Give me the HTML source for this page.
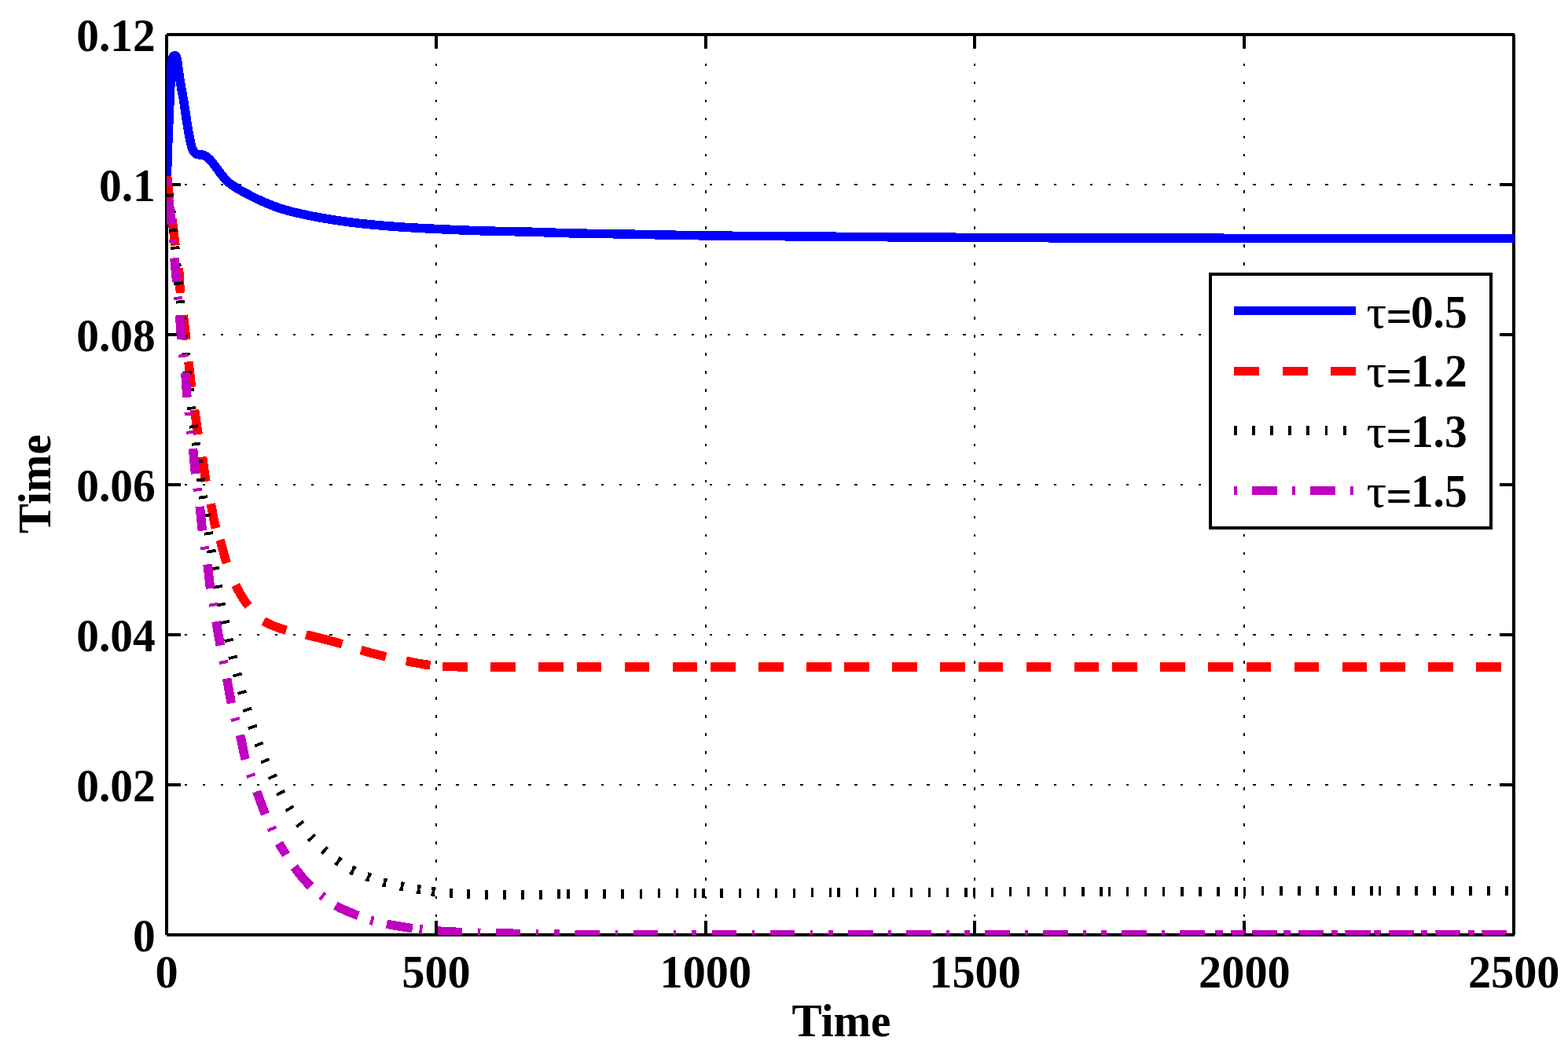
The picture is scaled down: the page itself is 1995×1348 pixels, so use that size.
<!DOCTYPE html>
<html lang="en"><head><meta charset="utf-8"><title>Time response for different delays</title>
<style>html,body{margin:0;padding:0;background:#fff}body{width:1995px;height:1348px;overflow:hidden}svg{display:block}text{font-family:"Liberation Serif","DejaVu Serif",serif;font-weight:bold;font-size:58.3px;fill:#000}.t{font-weight:normal;font-size:60px}</style></head><body>
<svg width="1995" height="1348" viewBox="0 0 1995 1348">
<rect width="1995" height="1348" fill="#fff"/>
<defs><clipPath id="ax"><rect x="212" y="43" width="1715.3" height="1147.6"/></clipPath></defs>
<g stroke="#000" fill="none" stroke-width="2" shape-rendering="crispEdges">
<path d="M235 999h3M258 999h3M281 999h3M304 999h3M327 999h3M350 999h3M373 999h3M396 999h3M419 999h4M442 999h4M465 999h4M488 999h4M511 999h4M534 999h4M557 999h4M580 999h4M603 999h4M626 999h4M649 999h4M672 999h4M695 999h4M718 999h4M741 999h4M765 999h3M788 999h3M811 999h3M834 999h3M857 999h3M880 999h3M903 999h3M926 999h3M949 999h3M972 999h3M995 999h4M1018 999h4M1041 999h4M1064 999h4M1087 999h4M1110 999h4M1133 999h4M1156 999h4M1179 999h4M1202 999h4M1225 999h4M1248 999h4M1271 999h4M1294 999h4M1317 999h4M1341 999h3M1364 999h3M1387 999h3M1410 999h3M1433 999h3M1456 999h3M1479 999h3M1502 999h3M1525 999h3M1548 999h3M1571 999h4M1594 999h4M1617 999h4M1640 999h4M1663 999h4M1686 999h4M1709 999h4M1732 999h4M1755 999h4M1778 999h4M1801 999h4M1824 999h4M1847 999h4M1870 999h4M1893 999h4M1917 999h3M235 808h3M258 808h3M281 808h3M304 808h3M327 808h3M350 808h3M373 808h3M396 808h3M419 808h4M442 808h4M465 808h4M488 808h4M511 808h4M534 808h4M557 808h4M580 808h4M603 808h4M626 808h4M649 808h4M672 808h4M695 808h4M718 808h4M741 808h4M765 808h3M788 808h3M811 808h3M834 808h3M857 808h3M880 808h3M903 808h3M926 808h3M949 808h3M972 808h3M995 808h4M1018 808h4M1041 808h4M1064 808h4M1087 808h4M1110 808h4M1133 808h4M1156 808h4M1179 808h4M1202 808h4M1225 808h4M1248 808h4M1271 808h4M1294 808h4M1317 808h4M1341 808h3M1364 808h3M1387 808h3M1410 808h3M1433 808h3M1456 808h3M1479 808h3M1502 808h3M1525 808h3M1548 808h3M1571 808h4M1594 808h4M1617 808h4M1640 808h4M1663 808h4M1686 808h4M1709 808h4M1732 808h4M1755 808h4M1778 808h4M1801 808h4M1824 808h4M1847 808h4M1870 808h4M1893 808h4M1917 808h3M235 617h3M258 617h3M281 617h3M304 617h3M327 617h3M350 617h3M373 617h3M396 617h3M419 617h4M442 617h4M465 617h4M488 617h4M511 617h4M534 617h4M557 617h4M580 617h4M603 617h4M626 617h4M649 617h4M672 617h4M695 617h4M718 617h4M741 617h4M765 617h3M788 617h3M811 617h3M834 617h3M857 617h3M880 617h3M903 617h3M926 617h3M949 617h3M972 617h3M995 617h4M1018 617h4M1041 617h4M1064 617h4M1087 617h4M1110 617h4M1133 617h4M1156 617h4M1179 617h4M1202 617h4M1225 617h4M1248 617h4M1271 617h4M1294 617h4M1317 617h4M1341 617h3M1364 617h3M1387 617h3M1410 617h3M1433 617h3M1456 617h3M1479 617h3M1502 617h3M1525 617h3M1548 617h3M1571 617h4M1594 617h4M1617 617h4M1640 617h4M1663 617h4M1686 617h4M1709 617h4M1732 617h4M1755 617h4M1778 617h4M1801 617h4M1824 617h4M1847 617h4M1870 617h4M1893 617h4M1917 617h3M235 426h3M258 426h3M281 426h3M304 426h3M327 426h3M350 426h3M373 426h3M396 426h3M419 426h4M442 426h4M465 426h4M488 426h4M511 426h4M534 426h4M557 426h4M580 426h4M603 426h4M626 426h4M649 426h4M672 426h4M695 426h4M718 426h4M741 426h4M765 426h3M788 426h3M811 426h3M834 426h3M857 426h3M880 426h3M903 426h3M926 426h3M949 426h3M972 426h3M995 426h4M1018 426h4M1041 426h4M1064 426h4M1087 426h4M1110 426h4M1133 426h4M1156 426h4M1179 426h4M1202 426h4M1225 426h4M1248 426h4M1271 426h4M1294 426h4M1317 426h4M1341 426h3M1364 426h3M1387 426h3M1410 426h3M1433 426h3M1456 426h3M1479 426h3M1502 426h3M1525 426h3M1548 426h3M1571 426h4M1594 426h4M1617 426h4M1640 426h4M1663 426h4M1686 426h4M1709 426h4M1732 426h4M1755 426h4M1778 426h4M1801 426h4M1824 426h4M1847 426h4M1870 426h4M1893 426h4M1917 426h3M235 235h3M258 235h3M281 235h3M304 235h3M327 235h3M350 235h3M373 235h3M396 235h3M419 235h4M442 235h4M465 235h4M488 235h4M511 235h4M534 235h4M557 235h4M580 235h4M603 235h4M626 235h4M649 235h4M672 235h4M695 235h4M718 235h4M741 235h4M765 235h3M788 235h3M811 235h3M834 235h3M857 235h3M880 235h3M903 235h3M926 235h3M949 235h3M972 235h3M995 235h4M1018 235h4M1041 235h4M1064 235h4M1087 235h4M1110 235h4M1133 235h4M1156 235h4M1179 235h4M1202 235h4M1225 235h4M1248 235h4M1271 235h4M1294 235h4M1317 235h4M1341 235h3M1364 235h3M1387 235h3M1410 235h3M1433 235h3M1456 235h3M1479 235h3M1502 235h3M1525 235h3M1548 235h3M1571 235h4M1594 235h4M1617 235h4M1640 235h4M1663 235h4M1686 235h4M1709 235h4M1732 235h4M1755 235h4M1778 235h4M1801 235h4M1824 235h4M1847 235h4M1870 235h4M1893 235h4M1917 235h3"/>
<path d="M555 58v3M555 81v3M555 104v3M555 127v3M555 150v3M555 173v3M555 196v3M555 219v4M555 242v4M555 265v4M555 288v4M555 311v4M555 334v4M555 357v4M555 380v4M555 403v4M555 426v4M555 449v4M555 472v4M555 495v4M555 518v4M555 541v4M555 565v3M555 588v3M555 611v3M555 634v3M555 657v3M555 680v3M555 703v3M555 726v3M555 749v3M555 772v3M555 795v4M555 818v4M555 841v4M555 864v4M555 887v4M555 910v4M555 933v4M555 956v4M555 979v4M555 1002v4M555 1025v4M555 1048v4M555 1071v4M555 1094v4M555 1117v4M555 1141v3M555 1164v3M898 58v3M898 81v3M898 104v3M898 127v3M898 150v3M898 173v3M898 196v3M898 219v4M898 242v4M898 265v4M898 288v4M898 311v4M898 334v4M898 357v4M898 380v4M898 403v4M898 426v4M898 449v4M898 472v4M898 495v4M898 518v4M898 541v4M898 565v3M898 588v3M898 611v3M898 634v3M898 657v3M898 680v3M898 703v3M898 726v3M898 749v3M898 772v3M898 795v4M898 818v4M898 841v4M898 864v4M898 887v4M898 910v4M898 933v4M898 956v4M898 979v4M898 1002v4M898 1025v4M898 1048v4M898 1071v4M898 1094v4M898 1117v4M898 1141v3M898 1164v3M1240 58v3M1240 81v3M1240 104v3M1240 127v3M1240 150v3M1240 173v3M1240 196v3M1240 219v4M1240 242v4M1240 265v4M1240 288v4M1240 311v4M1240 334v4M1240 357v4M1240 380v4M1240 403v4M1240 426v4M1240 449v4M1240 472v4M1240 495v4M1240 518v4M1240 541v4M1240 565v3M1240 588v3M1240 611v3M1240 634v3M1240 657v3M1240 680v3M1240 703v3M1240 726v3M1240 749v3M1240 772v3M1240 795v4M1240 818v4M1240 841v4M1240 864v4M1240 887v4M1240 910v4M1240 933v4M1240 956v4M1240 979v4M1240 1002v4M1240 1025v4M1240 1048v4M1240 1071v4M1240 1094v4M1240 1117v4M1240 1141v3M1240 1164v3M1583 58v3M1583 81v3M1583 104v3M1583 127v3M1583 150v3M1583 173v3M1583 196v3M1583 219v4M1583 242v4M1583 265v4M1583 288v4M1583 311v4M1583 334v4M1583 357v4M1583 380v4M1583 403v4M1583 426v4M1583 449v4M1583 472v4M1583 495v4M1583 518v4M1583 541v4M1583 565v3M1583 588v3M1583 611v3M1583 634v3M1583 657v3M1583 680v3M1583 703v3M1583 726v3M1583 749v3M1583 772v3M1583 795v4M1583 818v4M1583 841v4M1583 864v4M1583 887v4M1583 910v4M1583 933v4M1583 956v4M1583 979v4M1583 1002v4M1583 1025v4M1583 1048v4M1583 1071v4M1583 1094v4M1583 1117v4M1583 1141v3M1583 1164v3"/>
</g>
<g stroke="#000" fill="none" stroke-width="4" shape-rendering="crispEdges">
<path d="M212 44V1190M212 1190H1927M1926 44V1190M212 44H1927"/>
<path d="M212 999h18M1926 999h-18M212 808h18M1926 808h-18M212 617h18M1926 617h-18M212 426h18M1926 426h-18M212 235h18M1926 235h-18"/>
<path d="M555 1190v-18M555 44v18M898 1190v-18M898 44v18M1240 1190v-18M1240 44v18M1583 1190v-18M1583 44v18"/>
</g>
<g clip-path="url(#ax)" fill="none" stroke-width="11.5" stroke-linejoin="round" shape-rendering="crispEdges">
<path stroke="#0000ff" d="M212.2 235L212.24 233L212.28 231L212.32 229.01L212.37 227.01L212.41 225.01L212.46 223.01L212.51 221.02L212.56 219.02L212.61 217.02L212.67 215.03L212.72 213.03L212.78 211.03L212.83 209.03L212.89 207.04L212.95 205.04L213.01 203.04L213.07 201.04L213.13 199.05L213.19 197.05L213.26 195.05L213.33 193.06L213.4 191.06L213.47 189.06L213.55 187.07L213.62 185.07L213.7 183.07L213.78 181.08L213.86 179.08L213.93 177.08L214.02 175.09L214.1 173.09L214.18 171.1L214.27 169.1L214.35 167.1L214.44 165.11L214.52 163.11L214.61 161.11L214.69 159.12L214.78 157.12L214.86 155.13L214.94 153.13L215.03 151.13L215.11 149.14L215.19 147.14L215.28 145.14L215.36 143.15L215.44 141.15L215.53 139.16L215.61 137.16L215.7 135.16L215.78 133.17L215.87 131.17L215.95 129.17L216.03 127.18L216.12 125.18L216.2 123.19L216.29 121.19L216.38 119.19L216.46 117.2L216.55 115.2L216.64 113.21L216.74 111.21L216.83 109.21L216.91 107.22L217 105.22L217.08 103.22L217.17 101.23L217.27 99.23L217.37 97.24L217.47 95.24L217.59 93.25L217.71 91.25L217.85 89.26L218 87.27L218.16 85.28L218.33 83.29L218.54 81.3L218.79 79.32L219.08 77.34L219.42 75.37L219.83 73.42L220.46 71.52L222.11 70.8L223.92 71.24L224.58 73.12L225.06 75.07L225.45 77.02L225.78 78.99L226.06 80.97L226.31 82.95L226.54 84.94L226.78 86.92L227.04 88.9L227.33 90.88L227.63 92.86L227.93 94.83L228.23 96.81L228.54 98.78L228.84 100.76L229.15 102.73L229.46 104.7L229.78 106.68L230.11 108.65L230.45 110.62L230.8 112.58L231.16 114.55L231.52 116.51L231.89 118.48L232.26 120.44L232.62 122.4L232.98 124.37L233.34 126.34L233.68 128.3L234.01 130.28L234.33 132.25L234.64 134.22L234.94 136.2L235.23 138.17L235.51 140.15L235.8 142.13L236.08 144.11L236.36 146.09L236.64 148.06L236.92 150.04L237.21 152.02L237.5 154L237.8 155.97L238.11 157.94L238.44 159.92L238.77 161.89L239.1 163.86L239.45 165.82L239.8 167.79L240.16 169.76L240.53 171.72L240.92 173.68L241.31 175.64L241.72 177.59L242.12 179.55L242.53 181.51L242.96 183.46L243.44 185.4L244 187.32L244.66 189.2L245.46 191.03L246.42 192.78L247.64 194.36L249.2 195.6L250.97 196.52L252.92 196.91L254.92 196.95L256.91 197L258.86 197.4L260.72 198.14L262.41 199.19L264 200.4L265.53 201.68L266.98 203.06L268.35 204.51L269.65 206.03L270.89 207.6L272.09 209.2L273.27 210.81L274.46 212.42L275.66 214.01L276.85 215.61L278.03 217.23L279.2 218.85L280.39 220.45L281.6 222.04L282.86 223.59L284.14 225.13L285.43 226.65L286.76 228.15L288.12 229.61L289.55 231L291.04 232.33L292.6 233.59L294.19 234.79L295.83 235.94L297.48 237.06L299.15 238.15L300.84 239.23L302.54 240.28L304.25 241.3L305.99 242.29L307.73 243.27L309.49 244.23L311.24 245.17L313.01 246.11L314.78 247.04L316.55 247.97L318.32 248.89L320.1 249.8L321.88 250.7L323.67 251.59L325.46 252.47L327.26 253.34L329.07 254.19L330.88 255.03L332.7 255.86L334.53 256.67L336.36 257.46L338.2 258.24L340.04 259.02L341.89 259.79L343.74 260.55L345.59 261.29L347.45 262.02L349.32 262.73L351.19 263.43L353.07 264.1L354.96 264.75L356.86 265.37L358.77 265.97L360.68 266.55L362.6 267.1L364.52 267.65L366.45 268.17L368.38 268.69L370.31 269.18L372.25 269.67L374.19 270.14L376.14 270.6L378.08 271.05L380.03 271.5L381.98 271.93L383.93 272.36L385.89 272.78L387.84 273.2L389.8 273.61L391.75 274.02L393.71 274.42L395.67 274.82L397.63 275.21L399.59 275.6L401.55 275.98L403.51 276.35L405.48 276.72L407.44 277.08L409.41 277.43L411.37 277.78L413.34 278.12L415.31 278.46L417.28 278.79L419.25 279.11L421.23 279.43L423.2 279.74L425.18 280.04L427.15 280.33L429.13 280.62L431.11 280.91L433.08 281.19L435.06 281.47L437.04 281.74L439.02 282.01L441 282.28L442.98 282.54L444.97 282.79L446.95 283.05L448.93 283.29L450.91 283.54L452.9 283.77L454.88 284.01L456.87 284.24L458.85 284.46L460.84 284.68L462.82 284.9L464.81 285.11L466.8 285.31L468.79 285.51L470.77 285.71L472.76 285.9L474.75 286.09L476.74 286.27L478.73 286.45L480.72 286.63L482.71 286.81L484.7 286.98L486.69 287.15L488.68 287.32L490.68 287.48L492.67 287.64L494.66 287.8L496.65 287.95L498.64 288.11L500.64 288.25L502.63 288.4L504.62 288.54L506.61 288.69L508.61 288.82L510.6 288.96L512.59 289.09L514.59 289.22L516.58 289.35L518.58 289.47L520.57 289.6L522.57 289.72L524.56 289.84L526.55 289.95L528.55 290.06L530.54 290.18L532.54 290.29L534.53 290.39L536.53 290.5L538.52 290.6L540.52 290.71L542.52 290.81L544.51 290.91L546.51 291.01L548.5 291.11L550.5 291.2L552.49 291.3L554.49 291.4L556.49 291.49L558.48 291.59L560.48 291.68L562.47 291.77L564.47 291.87L566.46 291.96L568.46 292.05L570.46 292.15L572.45 292.24L574.45 292.33L576.44 292.42L578.44 292.51L580.44 292.6L582.43 292.69L584.43 292.78L586.42 292.86L588.42 292.95L590.42 293.03L592.41 293.11L594.41 293.19L596.41 293.26L598.4 293.34L600.4 293.41L602.4 293.48L604.39 293.55L606.39 293.61L608.39 293.68L610.38 293.74L612.38 293.8L614.38 293.86L616.38 293.91L618.37 293.97L620.37 294.03L622.37 294.08L624.36 294.13L626.36 294.18L628.36 294.23L630.36 294.28L632.35 294.33L634.35 294.38L636.35 294.42L638.35 294.46L640.34 294.51L642.34 294.55L644.34 294.58L646.34 294.62L648.34 294.65L650.33 294.69L652.33 294.72L654.33 294.75L656.33 294.78L658.32 294.81L660.32 294.85L662.32 294.88L664.32 294.92L666.31 294.96L668.31 295.01L670.31 295.06L672.31 295.11L674.3 295.17L676.3 295.23L678.3 295.29L680.3 295.36L682.29 295.43L684.29 295.5L686.29 295.57L688.28 295.64L690.28 295.71L692.28 295.78L694.27 295.85L696.27 295.91L698.27 295.98L700.26 296.04L702.26 296.1L704.26 296.16L706.26 296.22L708.25 296.29L710.25 296.35L712.25 296.41L714.24 296.47L716.24 296.53L718.24 296.59L720.23 296.65L722.23 296.71L724.23 296.76L726.23 296.81L728.22 296.87L730.22 296.91L732.22 296.96L734.22 297L736.21 297.05L738.21 297.09L740.21 297.13L742.21 297.16L744.2 297.2L746.2 297.24L748.2 297.27L750.2 297.31L752.2 297.34L754.19 297.37L756.19 297.4L758.19 297.43L760.19 297.47L762.18 297.5L764.18 297.53L766.18 297.56L768.18 297.58L770.18 297.61L772.17 297.64L774.17 297.67L776.17 297.7L778.17 297.73L780.16 297.76L782.16 297.79L784.16 297.83L786.16 297.86L788.16 297.89L790.15 297.92L792.15 297.96L794.15 297.99L796.15 298.03L798.14 298.07L800.14 298.1L802.14 298.14L804.14 298.18L806.13 298.22L808.13 298.26L810.13 298.3L812.13 298.34L814.13 298.38L816.12 298.42L818.12 298.46L820.12 298.5L822.12 298.54L824.11 298.58L826.11 298.62L828.11 298.66L830.11 298.7L832.1 298.74L834.1 298.78L836.1 298.82L838.1 298.86L840.09 298.9L842.09 298.93L844.09 298.97L846.09 299.01L848.09 299.04L850.08 299.08L852.08 299.11L854.08 299.15L856.08 299.19L858.07 299.22L860.07 299.26L862.07 299.3L864.07 299.33L866.06 299.37L868.06 299.41L870.06 299.44L872.06 299.48L874.06 299.51L876.05 299.55L878.05 299.58L880.05 299.61L882.05 299.65L884.04 299.68L886.04 299.71L888.04 299.74L890.04 299.77L892.04 299.8L894.03 299.83L896.03 299.86L898.03 299.89L900.03 299.92L902.02 299.94L904.02 299.97L906.02 299.99L908.02 300.01L910.02 300.03L912.01 300.05L914.01 300.08L916.01 300.1L918.01 300.12L920.01 300.14L922 300.16L924 300.18L926 300.2L928 300.21L930 300.23L931.99 300.25L933.99 300.27L935.99 300.29L937.99 300.31L939.98 300.32L941.98 300.34L943.98 300.36L945.98 300.37L947.98 300.39L949.97 300.41L951.97 300.42L953.97 300.44L955.97 300.45L957.97 300.47L959.96 300.48L961.96 300.5L963.96 300.51L965.96 300.53L967.96 300.54L969.95 300.56L971.95 300.57L973.95 300.59L975.95 300.6L977.95 300.61L979.94 300.63L981.94 300.64L983.94 300.66L985.94 300.67L987.94 300.68L989.93 300.7L991.93 300.71L993.93 300.73L995.93 300.74L997.93 300.75L999.92 300.77L1001.92 300.78L1003.92 300.8L1005.92 300.81L1007.92 300.82L1009.91 300.84L1011.91 300.85L1013.91 300.87L1015.91 300.88L1017.91 300.9L1019.9 300.91L1021.9 300.92L1023.9 300.94L1025.9 300.95L1027.9 300.97L1029.89 300.98L1031.89 301L1033.89 301.01L1035.89 301.03L1037.89 301.05L1039.88 301.06L1041.88 301.08L1043.88 301.09L1045.88 301.11L1047.88 301.12L1049.87 301.14L1051.87 301.16L1053.87 301.17L1055.87 301.19L1057.87 301.21L1059.86 301.22L1061.86 301.24L1063.86 301.25L1065.86 301.27L1067.85 301.29L1069.85 301.3L1071.85 301.32L1073.85 301.33L1075.85 301.35L1077.84 301.37L1079.84 301.38L1081.84 301.4L1083.84 301.42L1085.84 301.43L1087.83 301.45L1089.83 301.46L1091.83 301.48L1093.83 301.5L1095.83 301.51L1097.82 301.53L1099.82 301.54L1101.82 301.56L1103.82 301.57L1105.82 301.59L1107.81 301.61L1109.81 301.62L1111.81 301.64L1113.81 301.65L1115.81 301.67L1117.8 301.68L1119.8 301.7L1121.8 301.71L1123.8 301.73L1125.8 301.74L1127.79 301.75L1129.79 301.77L1131.79 301.78L1133.79 301.8L1135.79 301.81L1137.78 301.82L1139.78 301.84L1141.78 301.85L1143.78 301.86L1145.78 301.88L1147.77 301.89L1149.77 301.9L1151.77 301.91L1153.77 301.93L1155.77 301.94L1157.76 301.95L1159.76 301.96L1161.76 301.97L1163.76 301.98L1165.76 301.99L1167.75 302.01L1169.75 302.02L1171.75 302.03L1173.75 302.04L1175.75 302.05L1177.74 302.06L1179.74 302.07L1181.74 302.08L1183.74 302.09L1185.74 302.1L1187.73 302.11L1189.73 302.12L1191.73 302.13L1193.73 302.14L1195.73 302.15L1197.72 302.16L1199.72 302.17L1201.72 302.18L1203.72 302.19L1205.72 302.2L1207.71 302.21L1209.71 302.22L1211.71 302.23L1213.71 302.24L1215.71 302.25L1217.7 302.26L1219.7 302.27L1221.7 302.28L1223.7 302.29L1225.7 302.3L1227.69 302.31L1229.69 302.32L1231.69 302.33L1233.69 302.34L1235.69 302.35L1237.68 302.36L1239.68 302.37L1241.68 302.37L1243.68 302.38L1245.68 302.39L1247.67 302.4L1249.67 302.41L1251.67 302.42L1253.67 302.43L1255.67 302.44L1257.66 302.45L1259.66 302.46L1261.66 302.47L1263.66 302.47L1265.66 302.48L1267.65 302.49L1269.65 302.5L1271.65 302.51L1273.65 302.52L1275.65 302.53L1277.64 302.53L1279.64 302.54L1281.64 302.55L1283.64 302.56L1285.64 302.57L1287.63 302.58L1289.63 302.58L1291.63 302.59L1293.63 302.6L1295.63 302.61L1297.62 302.62L1299.62 302.63L1301.62 302.63L1303.62 302.64L1305.62 302.65L1307.61 302.66L1309.61 302.66L1311.61 302.67L1313.61 302.68L1315.61 302.69L1317.6 302.69L1319.6 302.7L1321.6 302.71L1323.6 302.72L1325.6 302.72L1327.59 302.73L1329.59 302.74L1331.59 302.75L1333.59 302.75L1335.59 302.76L1337.58 302.77L1339.58 302.77L1341.58 302.78L1343.58 302.79L1345.58 302.79L1347.57 302.8L1349.57 302.81L1351.57 302.81L1353.57 302.82L1355.57 302.83L1357.56 302.83L1359.56 302.84L1361.56 302.85L1363.56 302.85L1365.56 302.86L1367.55 302.86L1369.55 302.87L1371.55 302.88L1373.55 302.88L1375.55 302.89L1377.54 302.89L1379.54 302.9L1381.54 302.9L1383.54 302.91L1385.54 302.92L1387.53 302.92L1389.53 302.93L1391.53 302.93L1393.53 302.94L1395.53 302.94L1397.52 302.95L1399.52 302.95L1401.52 302.96L1403.52 302.96L1405.52 302.97L1407.51 302.97L1409.51 302.98L1411.51 302.98L1413.51 302.98L1415.51 302.99L1417.5 302.99L1419.5 303L1421.5 303L1423.5 303.01L1425.5 303.01L1427.49 303.01L1429.49 303.02L1431.49 303.02L1433.49 303.03L1435.49 303.03L1437.48 303.04L1439.48 303.04L1441.48 303.04L1443.48 303.05L1445.48 303.05L1447.47 303.06L1449.47 303.06L1451.47 303.06L1453.47 303.07L1455.47 303.07L1457.46 303.08L1459.46 303.08L1461.46 303.08L1463.46 303.09L1465.46 303.09L1467.45 303.09L1469.45 303.1L1471.45 303.1L1473.45 303.11L1475.45 303.11L1477.44 303.11L1479.44 303.12L1481.44 303.12L1483.44 303.12L1485.44 303.13L1487.44 303.13L1489.43 303.14L1491.43 303.14L1493.43 303.14L1495.43 303.15L1497.43 303.15L1499.42 303.15L1501.42 303.16L1503.42 303.16L1505.42 303.16L1507.42 303.17L1509.41 303.17L1511.41 303.17L1513.41 303.18L1515.41 303.18L1517.41 303.18L1519.4 303.19L1521.4 303.19L1523.4 303.19L1525.4 303.2L1527.4 303.2L1529.39 303.2L1531.39 303.21L1533.39 303.21L1535.39 303.21L1537.39 303.22L1539.38 303.22L1541.38 303.22L1543.38 303.23L1545.38 303.23L1547.38 303.23L1549.37 303.23L1551.37 303.24L1553.37 303.24L1555.37 303.24L1557.37 303.25L1559.36 303.25L1561.36 303.25L1563.36 303.26L1565.36 303.26L1567.36 303.26L1569.35 303.26L1571.35 303.27L1573.35 303.27L1575.35 303.27L1577.35 303.27L1579.34 303.28L1581.34 303.28L1583.34 303.28L1585.34 303.29L1587.34 303.29L1589.33 303.29L1591.33 303.29L1593.33 303.3L1595.33 303.3L1597.33 303.3L1599.32 303.3L1601.32 303.31L1603.32 303.31L1605.32 303.31L1607.32 303.31L1609.31 303.32L1611.31 303.32L1613.31 303.32L1615.31 303.32L1617.31 303.32L1619.3 303.33L1621.3 303.33L1623.3 303.33L1625.3 303.33L1627.3 303.34L1629.29 303.34L1631.29 303.34L1633.29 303.34L1635.29 303.34L1637.29 303.35L1639.28 303.35L1641.28 303.35L1643.28 303.35L1645.28 303.35L1647.28 303.36L1649.27 303.36L1651.27 303.36L1653.27 303.36L1655.27 303.36L1657.27 303.37L1659.26 303.37L1661.26 303.37L1663.26 303.37L1665.26 303.37L1667.26 303.38L1669.25 303.38L1671.25 303.38L1673.25 303.38L1675.25 303.38L1677.25 303.38L1679.25 303.38L1681.24 303.39L1683.24 303.39L1685.24 303.39L1687.24 303.39L1689.24 303.39L1691.23 303.39L1693.23 303.4L1695.23 303.4L1697.23 303.4L1699.23 303.4L1701.22 303.4L1703.22 303.4L1705.22 303.4L1707.22 303.4L1709.22 303.41L1711.21 303.41L1713.21 303.41L1715.21 303.41L1717.21 303.41L1719.21 303.41L1721.2 303.41L1723.2 303.42L1725.2 303.42L1727.2 303.42L1729.2 303.42L1731.19 303.42L1733.19 303.42L1735.19 303.42L1737.19 303.42L1739.19 303.43L1741.18 303.43L1743.18 303.43L1745.18 303.43L1747.18 303.43L1749.18 303.43L1751.17 303.43L1753.17 303.43L1755.17 303.44L1757.17 303.44L1759.17 303.44L1761.16 303.44L1763.16 303.44L1765.16 303.44L1767.16 303.44L1769.16 303.44L1771.15 303.45L1773.15 303.45L1775.15 303.45L1777.15 303.45L1779.15 303.45L1781.14 303.45L1783.14 303.45L1785.14 303.45L1787.14 303.45L1789.14 303.46L1791.13 303.46L1793.13 303.46L1795.13 303.46L1797.13 303.46L1799.13 303.46L1801.12 303.46L1803.12 303.46L1805.12 303.46L1807.12 303.47L1809.12 303.47L1811.11 303.47L1813.11 303.47L1815.11 303.47L1817.11 303.47L1819.11 303.47L1821.1 303.47L1823.1 303.47L1825.1 303.47L1827.1 303.48L1829.1 303.48L1831.09 303.48L1833.09 303.48L1835.09 303.48L1837.09 303.48L1839.09 303.48L1841.08 303.48L1843.08 303.48L1845.08 303.48L1847.08 303.48L1849.08 303.48L1851.08 303.49L1853.07 303.49L1855.07 303.49L1857.07 303.49L1859.07 303.49L1861.07 303.49L1863.06 303.49L1865.06 303.49L1867.06 303.49L1869.06 303.49L1871.06 303.49L1873.05 303.49L1875.05 303.49L1877.05 303.49L1879.05 303.49L1881.05 303.49L1883.04 303.49L1885.04 303.5L1887.04 303.5L1889.04 303.5L1891.04 303.5L1893.03 303.5L1895.03 303.5L1897.03 303.5L1899.03 303.5L1901.03 303.5L1903.02 303.5L1905.02 303.5L1907.02 303.5L1909.02 303.5L1911.02 303.5L1913.01 303.5L1915.01 303.5L1917.01 303.5L1919.01 303.5L1921.01 303.5L1923 303.5L1925 303.5L1927 303.5"/>
<path stroke="#ff0000" d="M212.6 224L212.79 226.73L213 229.46L213.24 232.18L213.49 234.9L213.78 237.62L214.1 240.34L214.44 243.05L214.8 245.77L215.17 248.48L215.54 251.19L215.89 253.9M218.98 278.87L219.33 281.68L219.66 284.48L220 287.29L220.33 290.1L220.66 292.9L220.99 295.71L221.33 298.52L221.67 301.32L222.01 304.13L222.36 306.93L222.72 309.74L223.09 312.54M227.32 341.22L227.57 344.09L227.79 346.97L227.99 349.85L228.16 352.73L228.33 355.61L228.49 358.49L228.66 361.37L228.84 364.24L229.03 367.12L229.24 370L229.49 372.87M233.31 401.06L233.65 403.93L233.97 406.79L234.29 409.66L234.59 412.53L234.9 415.39L235.19 418.26L235.49 421.13L235.79 424L236.09 426.87L236.4 429.74L236.71 432.61M239.88 460.32L240.21 463.29L240.53 466.25L240.85 469.22L241.17 472.19L241.48 475.16L241.8 478.12L242.12 481.09L242.45 484.05L242.79 487.02L243.13 489.98L243.49 492.95M247.54 521.65L247.94 524.51L248.34 527.37L248.75 530.22L249.15 533.08L249.55 535.94L249.96 538.79L250.37 541.65L250.79 544.5L251.22 547.35L251.67 550.2L252.12 553.05M257.39 581.56L257.84 584.41L258.27 587.26L258.67 590.12L259.06 592.97L259.44 595.83L259.82 598.69L260.21 601.55L260.62 604.41L261.04 607.26L261.49 610.11L261.97 612.95M268.31 641.24L268.89 644.07L269.43 646.9L269.96 649.74L270.47 652.58L270.98 655.42L271.5 658.26L272.03 661.09L272.6 663.92L273.2 666.74L273.85 669.56L274.56 672.35M279.93 687.28L280.76 689.94L281.55 692.61L282.3 695.29L283.02 697.98L283.73 700.67L284.44 703.37L285.15 706.06L285.89 708.75L286.65 711.43L287.46 714.09L288.31 716.74M299.74 744.58L301.01 747.11L302.32 749.63L303.67 752.13L305.05 754.61L306.47 757.07L307.94 759.5L309.45 761.91L311 764.28L312.61 766.62L314.27 768.92L315.99 771.19M335.34 790.49L337.8 791.92L340.31 793.26L342.87 794.5L345.46 795.66L348.09 796.76L350.74 797.79L353.41 798.77L356.1 799.69L358.81 800.57L361.52 801.42L364.25 802.23M389.32 807.91L392.21 808.6L395.11 809.29L398 809.99L400.89 810.7L403.78 811.41L406.66 812.12L409.55 812.85L412.43 813.58L415.31 814.31L418.19 815.06L421.07 815.82L423.94 816.59L426.81 817.37L429.68 818.17L432.54 818.98L435.4 819.8M459.34 827.54L462.21 828.37L465.08 829.18L467.96 829.98L470.84 830.76L473.72 831.53L476.61 832.29L479.5 833.03L482.39 833.76L485.29 834.48L488.19 835.18L491.09 835.87M516.75 841.43L519.54 841.97L522.32 842.5L525.11 843.03L527.89 843.55L530.68 844.06L533.47 844.56L536.27 845.04L539.07 845.49L541.87 845.92L544.68 846.33L547.49 846.7M563.2 848.31L566.07 848.39L568.94 848.47L571.82 848.55L574.69 848.61L577.56 848.67L580.43 848.73L583.31 848.77L586.18 848.81L589.05 848.84L591.93 848.87L594.8 848.89M624.2 848.9L627.07 848.9L629.95 848.9L632.82 848.9L635.69 848.9L638.56 848.9L641.44 848.9L644.31 848.9L647.18 848.9L650.05 848.9L652.93 848.9L655.8 848.9M685.2 848.9L688.07 848.9L690.95 848.9L693.82 848.9L696.69 848.9L699.56 848.9L702.44 848.9L705.31 848.9L708.18 848.9L711.05 848.9L713.93 848.9L716.8 848.9M733.6 848.9L736.47 848.9L739.35 848.9L742.22 848.9L745.09 848.9L747.96 848.9L750.84 848.9L753.71 848.9L756.58 848.9L759.45 848.9L762.33 848.9L765.2 848.9M794.6 848.9L797.47 848.9L800.35 848.9L803.22 848.9L806.09 848.9L808.96 848.9L811.84 848.9L814.71 848.9L817.58 848.9L820.45 848.9L823.33 848.9L826.2 848.9M855.6 848.9L858.47 848.9L861.35 848.9L864.22 848.9L867.09 848.9L869.96 848.9L872.84 848.9L875.71 848.9L878.58 848.9L881.45 848.9L884.33 848.9L887.2 848.9M904 848.9L906.87 848.9L909.75 848.9L912.62 848.9L915.49 848.9L918.36 848.9L921.24 848.9L924.11 848.9L926.98 848.9L929.85 848.9L932.73 848.9L935.6 848.9M965 848.9L967.87 848.9L970.75 848.9L973.62 848.9L976.49 848.9L979.36 848.9L982.24 848.9L985.11 848.9L987.98 848.9L990.85 848.9L993.73 848.9L996.6 848.9M1026 848.9L1028.87 848.9L1031.75 848.9L1034.62 848.9L1037.49 848.9L1040.36 848.9L1043.24 848.9L1046.11 848.9L1048.98 848.9L1051.85 848.9L1054.73 848.9L1057.6 848.9M1074.4 848.9L1077.27 848.9L1080.15 848.9L1083.02 848.9L1085.89 848.9L1088.76 848.9L1091.64 848.9L1094.51 848.9L1097.38 848.9L1100.25 848.9L1103.13 848.9L1106 848.9M1135.4 848.9L1138.27 848.9L1141.15 848.9L1144.02 848.9L1146.89 848.9L1149.76 848.9L1152.64 848.9L1155.51 848.9L1158.38 848.9L1161.25 848.9L1164.13 848.9L1167 848.9M1196.4 848.9L1199.27 848.9L1202.15 848.9L1205.02 848.9L1207.89 848.9L1210.76 848.9L1213.64 848.9L1216.51 848.9L1219.38 848.9L1222.25 848.9L1225.13 848.9L1228 848.9M1244.8 848.9L1247.67 848.9L1250.55 848.9L1253.42 848.9L1256.29 848.9L1259.16 848.9L1262.04 848.9L1264.91 848.9L1267.78 848.9L1270.65 848.9L1273.53 848.9L1276.4 848.9M1305.8 848.9L1308.67 848.9L1311.55 848.9L1314.42 848.9L1317.29 848.9L1320.16 848.9L1323.04 848.9L1325.91 848.9L1328.78 848.9L1331.65 848.9L1334.53 848.9L1337.4 848.9M1366.8 848.9L1369.67 848.9L1372.55 848.9L1375.42 848.9L1378.29 848.9L1381.16 848.9L1384.04 848.9L1386.91 848.9L1389.78 848.9L1392.65 848.9L1395.53 848.9L1398.4 848.9M1415.2 848.9L1418.07 848.9L1420.95 848.9L1423.82 848.9L1426.69 848.9L1429.56 848.9L1432.44 848.9L1435.31 848.9L1438.18 848.9L1441.05 848.9L1443.93 848.9L1446.8 848.9M1476.2 848.9L1479.07 848.9L1481.95 848.9L1484.82 848.9L1487.69 848.9L1490.56 848.9L1493.44 848.9L1496.31 848.9L1499.18 848.9L1502.05 848.9L1504.93 848.9L1507.8 848.9M1537.2 848.9L1540.07 848.9L1542.95 848.9L1545.82 848.9L1548.69 848.9L1551.56 848.9L1554.44 848.9L1557.31 848.9L1560.18 848.9L1563.05 848.9L1565.93 848.9L1568.8 848.9M1585.6 848.9L1588.47 848.9L1591.35 848.9L1594.22 848.9L1597.09 848.9L1599.96 848.9L1602.84 848.9L1605.71 848.9L1608.58 848.9L1611.45 848.9L1614.33 848.9L1617.2 848.9M1646.6 848.9L1649.47 848.9L1652.35 848.9L1655.22 848.9L1658.09 848.9L1660.96 848.9L1663.84 848.9L1666.71 848.9L1669.58 848.9L1672.45 848.9L1675.33 848.9L1678.2 848.9M1707.6 848.9L1710.47 848.9L1713.35 848.9L1716.22 848.9L1719.09 848.9L1721.96 848.9L1724.84 848.9L1727.71 848.9L1730.58 848.9L1733.45 848.9L1736.33 848.9L1739.2 848.9M1756 848.9L1758.87 848.9L1761.75 848.9L1764.62 848.9L1767.49 848.9L1770.36 848.9L1773.24 848.9L1776.11 848.9L1778.98 848.9L1781.85 848.9L1784.73 848.9L1787.6 848.9M1817 848.9L1819.87 848.9L1822.75 848.9L1825.62 848.9L1828.49 848.9L1831.36 848.9L1834.24 848.9L1837.11 848.9L1839.98 848.9L1842.85 848.9L1845.73 848.9L1848.6 848.9M1878 848.9L1880.87 848.9L1883.75 848.9L1886.62 848.9L1889.49 848.9L1892.36 848.9L1895.24 848.9L1898.11 848.9L1900.98 848.9L1903.85 848.9L1906.73 848.9L1909.6 848.9"/>
<path stroke="#000000" d="M215.26 246.91L215.49 248.79L215.71 250.68M217.57 267.96L217.78 269.84L218 271.73M220.38 291.38L220.59 293.27L220.79 295.16M222.61 313.66L222.79 315.55L222.97 317.44M224.62 335.34L224.79 337.24L224.97 339.13M226.81 358.84L226.99 360.73L227.19 362.62M229.33 382.3L229.52 384.19L229.7 386.08M231.35 403.98L231.52 405.87L231.68 407.77M233.32 426.89L233.52 428.78L233.74 430.66M236.32 449.07L236.52 450.96L236.69 452.85M238.14 472.59L238.32 474.48L238.52 476.37M241.1 494.78L241.32 496.67L241.52 498.56M243.28 517.67L243.47 519.56L243.68 521.44M246.18 541.08L246.44 542.96L246.69 544.85M249.26 563.25L249.52 565.14L249.77 567.02M252.22 585.44L252.46 587.33L252.71 589.21M255.16 608.85L255.4 610.74L255.65 612.62M258.17 631.03L258.46 632.91L258.75 634.79M262.15 654.29L262.44 656.17L262.71 658.05M265.17 677.08L265.44 678.96L265.71 680.84M268.69 699.8L269.01 701.67L269.34 703.54M272.83 721.8L273.18 723.67L273.52 725.53M277.03 745.01L277.36 746.89L277.69 748.76M280.98 767.66L281.34 769.53L281.72 771.39M285.93 790.11L286.34 791.97L286.73 793.83M290.73 813.21L291.14 815.07L291.56 816.92M295.9 834.99L296.36 836.84L296.82 838.68M301.57 857.27L302.05 859.11L302.54 860.95M307.53 879.48L308.04 881.31L308.57 883.13M314.07 901.52L314.62 903.33L315.17 905.15M320.84 923.49L321.43 925.29L322.04 927.09M328.74 945.72L329.4 947.5L330.06 949.28M336.67 966.65L337.4 968.41L338.15 970.15M346.07 986.97L346.89 988.68L347.71 990.39M356.17 1007.62L357.05 1009.3L357.95 1010.98M367.54 1027.6L368.54 1029.22L369.54 1030.83M380.59 1047.26L381.72 1048.79L382.86 1050.3M395.17 1065.03L396.45 1066.44L397.74 1067.83M411.43 1081.28L412.85 1082.54L414.28 1083.79"/>
<path stroke="#000000" stroke-width="3.3" d="M432.75 1090.97L428.12 1101.82M434.76 1092.38L426.11 1100.41M450.43 1102.25L447.37 1113.65M452.62 1103.37L445.18 1112.53M469.85 1110.61L468.06 1122.28M472.15 1111.48L465.76 1121.41M489.9 1117.6L489.22 1129.38M492.27 1118.25L486.85 1128.73M511.31 1122.5L511.49 1134.3M513.72 1122.98L509.08 1133.82M532.56 1126.3L533.13 1138.08M534.99 1126.69L530.7 1137.69M550.84 1129.11L551.95 1140.86M553.28 1129.4L549.51 1140.58"/>
<path fill="#000000" stroke="none" d="M572 1131h4v12h-4zM594 1132h4v12h-4zM617 1133h4v12h-4zM640 1133h4v12h-4zM663 1133h4v12h-4zM686 1133h4v12h-4zM709 1132h4v12h-4zM721 1132h4v12h-4zM744 1132h4v12h-4zM767 1132h4v12h-4zM790 1132h4v12h-4zM814 1132h3v12h-3zM837 1131h3v12h-3zM860 1131h3v12h-3zM883 1131h3v12h-3zM893 1131h4v12h-4zM916 1131h4v12h-4zM940 1131h3v12h-3zM963 1131h3v12h-3zM986 1131h3v12h-3zM1009 1131h3v12h-3zM1032 1130h3v12h-3zM1055 1130h3v12h-3zM1065 1130h4v12h-4zM1089 1130h3v12h-3zM1112 1130h3v12h-3zM1135 1130h3v12h-3zM1158 1130h3v12h-3zM1181 1130h3v12h-3zM1204 1130h3v12h-3zM1227 1130h4v12h-4zM1238 1130h3v12h-3zM1261 1130h3v12h-3zM1284 1129h3v12h-3zM1307 1129h3v12h-3zM1330 1129h3v12h-3zM1353 1129h3v12h-3zM1376 1129h4v12h-4zM1399 1129h4v12h-4zM1410 1129h3v12h-3zM1433 1129h3v12h-3zM1456 1129h3v12h-3zM1479 1129h3v12h-3zM1502 1129h4v12h-4zM1525 1129h4v12h-4zM1548 1129h4v12h-4zM1571 1129h4v12h-4zM1582 1129h3v12h-3zM1605 1128h3v12h-3zM1628 1128h4v12h-4zM1651 1128h4v12h-4zM1674 1128h4v12h-4zM1697 1128h4v12h-4zM1720 1128h4v12h-4zM1743 1128h4v12h-4zM1754 1128h3v12h-3zM1777 1128h4v12h-4zM1800 1128h4v12h-4zM1823 1128h4v12h-4zM1846 1128h4v12h-4zM1869 1128h4v12h-4zM1892 1128h4v12h-4zM1915 1128h4v12h-4z"/>
<path stroke="#bf00bf" d="M212.2 228L212.46 230.31L212.7 232.61L212.95 234.92L213.18 237.23M214.61 252.64L214.9 255.41L215.19 258.18L215.5 260.94L215.81 263.71L216.12 266.48L216.44 269.25L216.76 272.01L217.08 274.78L217.4 277.55L217.71 280.31L218.02 283.08L218.33 285.85M220.36 304.78L220.52 306.77L220.67 308.77M221.91 328.39L222.12 331.14L222.36 333.89L222.61 336.63L222.87 339.38L223.14 342.12L223.41 344.86L223.68 347.61L223.95 350.35L224.22 353.09L224.48 355.84L224.72 358.58M226.3 377.56L226.48 379.55L226.66 381.54M228.52 401.12L228.75 403.92L228.97 406.72L229.18 409.53L229.38 412.34L229.58 415.14L229.78 417.95L229.99 420.75L230.19 423.56L230.41 426.36L230.64 429.17L230.88 431.97M232.84 450.91L233.07 452.9L233.3 454.88M235.71 474.4L235.96 477.25L236.19 480.11L236.4 482.98L236.59 485.84L236.78 488.7L236.96 491.57L237.15 494.43L237.34 497.29L237.55 500.15L237.78 503.01L238.03 505.87M240.21 524.79L240.43 526.78L240.64 528.77M242.61 548.18L242.83 550.17L243.07 552.16M245.48 571.04L245.8 573.95L246.09 576.86L246.37 579.78L246.64 582.69L246.9 585.6L247.17 588.52L247.43 591.43L247.71 594.34L247.99 597.25L248.3 600.16L248.62 603.07M251.1 621.33L251.37 623.31L251.64 625.29M254.19 644.79L254.51 647.58L254.82 650.38L255.12 653.17L255.41 655.97L255.7 658.77L255.98 661.57L256.27 664.37L256.56 667.16L256.86 669.96L257.18 672.76L257.51 675.55M260.22 695.65L260.52 697.63L260.83 699.6M264.02 718.37L264.39 721.16L264.74 723.95L265.05 726.75L265.35 729.55L265.65 732.34L265.94 735.14L266.24 737.94L266.55 740.74L266.88 743.53L267.24 746.32L267.63 749.1M271.2 767.81L271.56 769.78L271.9 771.75M274.98 791.17L275.44 793.94L275.91 796.71L276.39 799.49L276.87 802.26L277.36 805.03L277.85 807.8L278.34 810.57L278.84 813.34L279.34 816.11L279.84 818.87L280.34 821.64M284 840.96L284.38 842.92L284.77 844.88M288.55 863.55L289.1 866.42L289.62 869.3L290.14 872.18L290.64 875.06L291.15 877.94L291.65 880.82L292.16 883.7L292.69 886.58L293.23 889.46L293.79 892.33L294.38 895.19M298.81 913.71L299.33 915.65L299.87 917.57M305.49 935.76L306.18 938.55L306.83 941.35L307.43 944.15L308.01 946.96L308.58 949.78L309.14 952.59L309.71 955.4L310.3 958.21L310.92 961.01L311.58 963.81L312.3 966.58M318.51 985.24L319.18 987.12L319.85 989.01M326.69 1007.44L327.66 1010.08L328.63 1012.72L329.59 1015.36L330.56 1018.01L331.52 1020.65L332.49 1023.29L333.47 1025.93L334.47 1028.56L335.48 1031.18L336.51 1033.8L337.56 1036.41M345.04 1053.25L345.89 1055.06L346.74 1056.87M354.96 1073.35L356.4 1075.86L357.91 1078.32L359.46 1080.76L361.03 1083.18L362.61 1085.6L364.18 1088.03M374.38 1103.54L376.12 1105.9L377.88 1108.24L379.66 1110.56L381.47 1112.86L383.31 1115.14L385.17 1117.4L387.08 1119.62L389.02 1121.82L390.99 1123.98L393.01 1126.1L395.08 1128.18M408.68 1139.68L410.26 1140.89L411.85 1142.11M426.96 1152.66L429.48 1154.05L432.02 1155.37L434.6 1156.64L437.2 1157.86L439.82 1159.04L442.45 1160.19L445.09 1161.3L447.75 1162.39L450.41 1163.47L453.08 1164.53L455.75 1165.58M471.32 1171.26L473.24 1171.83L475.17 1172.35M491.94 1176.11L494.67 1176.64L497.41 1177.16L500.15 1177.67L502.89 1178.17L505.63 1178.66L508.37 1179.13L511.12 1179.59L513.87 1180.04L516.62 1180.47L519.37 1180.89L522.13 1181.3L524.89 1181.68M533.6 1182.81L535.5 1183.03L537.4 1183.24M556.9 1184.96L559.75 1185.17L562.6 1185.36L565.46 1185.54L568.31 1185.71L571.16 1185.86L574.02 1186L576.88 1186.14L579.73 1186.27L582.59 1186.39L585.44 1186.5L588.3 1186.61M607.9 1187.23L609.65 1187.28L611.4 1187.33M630.9 1187.82L633.75 1187.88L636.61 1187.94L639.46 1188L642.32 1188.06L645.17 1188.11L648.03 1188.16L650.88 1188.22L653.74 1188.27L656.59 1188.32L659.45 1188.37L662.3 1188.42M681.9 1188.77L683.65 1188.8L685.4 1188.83M704.9 1189.13L707.27 1189.16L709.63 1189.19L712 1189.22M731.5 1189.38L734.35 1189.39L737.21 1189.4L740.06 1189.4L742.92 1189.4L745.77 1189.4L748.63 1189.41L751.48 1189.41L754.34 1189.41L757.19 1189.41L760.05 1189.42L762.9 1189.42M782.5 1189.43L784.25 1189.43L786 1189.43M805.5 1189.44L808.35 1189.44L811.21 1189.45L814.06 1189.45L816.92 1189.45L819.77 1189.45L822.63 1189.45L825.48 1189.45L828.34 1189.45L831.19 1189.45L834.05 1189.45L836.9 1189.45M856.5 1189.46L858.25 1189.46L860 1189.46M879.5 1189.47L881.73 1189.47L883.97 1189.47L886.2 1189.47M905.7 1189.47L908.55 1189.47L911.41 1189.47L914.26 1189.47L917.12 1189.47L919.97 1189.47L922.83 1189.48L925.68 1189.48L928.54 1189.48L931.39 1189.48L934.25 1189.48L937.1 1189.48M956.7 1189.48L958.45 1189.48L960.2 1189.49M979.7 1189.49L982.55 1189.49L985.41 1189.49L988.26 1189.49L991.12 1189.5L993.97 1189.5L996.83 1189.5L999.68 1189.5L1002.54 1189.5L1005.39 1189.5L1008.25 1189.5L1011.1 1189.51M1030.7 1189.51L1032.45 1189.52L1034.2 1189.52M1053.7 1189.53L1055.7 1189.53L1057.7 1189.53L1059.7 1189.53M1079.2 1189.54L1082.05 1189.54L1084.91 1189.54L1087.76 1189.55L1090.62 1189.55L1093.47 1189.55L1096.33 1189.55L1099.18 1189.55L1102.04 1189.55L1104.89 1189.55L1107.75 1189.56L1110.6 1189.56M1130.2 1189.57L1131.95 1189.57L1133.7 1189.57M1153.2 1189.58L1156.05 1189.59L1158.91 1189.59L1161.76 1189.59L1164.62 1189.59L1167.47 1189.59L1170.33 1189.59L1173.18 1189.6L1176.04 1189.6L1178.89 1189.6L1181.75 1189.6L1184.6 1189.6M1204.2 1189.62L1205.95 1189.62L1207.7 1189.62M1227.2 1189.63L1229.37 1189.63L1231.53 1189.63L1233.7 1189.64M1253.2 1189.65L1256.05 1189.65L1258.91 1189.65L1261.76 1189.65L1264.62 1189.66L1267.47 1189.66L1270.33 1189.66L1273.18 1189.66L1276.04 1189.66L1278.89 1189.66L1281.75 1189.67L1284.6 1189.67M1304.2 1189.68L1305.95 1189.68L1307.7 1189.68M1327.2 1189.7L1330.05 1189.7L1332.91 1189.7L1335.76 1189.7L1338.62 1189.7L1341.47 1189.71L1344.33 1189.71L1347.18 1189.71L1350.04 1189.71L1352.89 1189.71L1355.75 1189.71L1358.6 1189.72M1378.2 1189.73L1379.95 1189.73L1381.7 1189.73M1401.2 1189.74L1403.33 1189.74L1405.47 1189.75L1407.6 1189.75M1427.1 1189.76L1429.95 1189.76L1432.81 1189.76L1435.66 1189.76L1438.52 1189.77L1441.37 1189.77L1444.23 1189.77L1447.08 1189.77L1449.94 1189.77L1452.79 1189.77L1455.65 1189.78L1458.5 1189.78M1478.1 1189.79L1479.85 1189.79L1481.6 1189.79M1501.1 1189.8L1503.95 1189.8L1506.81 1189.8L1509.66 1189.81L1512.52 1189.81L1515.37 1189.81L1518.23 1189.81L1521.08 1189.81L1523.94 1189.81L1526.79 1189.81L1529.65 1189.82L1532.5 1189.82"/>
<path fill="#bf00bf" stroke="none" d="M1546.3 1184.3H1556L1556.3 1186.6L1553.6 1191.5H1548.7L1546 1186.6ZM1566 1184.3H1584L1584.3 1186.6L1582 1191.5H1568L1565.7 1186.6ZM1593 1184.3H1625L1625.3 1186.6L1623 1191.5H1595L1592.7 1186.6ZM1633 1184.3H1642.3L1642.6 1186.6L1639.9 1191.5H1635.4L1632.7 1186.6ZM1652.2 1184.3H1684L1684.3 1186.6L1682 1191.5H1654.2L1651.9 1186.6ZM1694 1184.3H1702L1702.3 1186.6L1699.6 1191.5H1696.4L1693.7 1186.6ZM1711.4 1184.3H1744L1744.3 1186.6L1742 1191.5H1713.4L1711.1 1186.6ZM1748 1184.3H1757L1757.3 1186.6L1754.6 1191.5H1750.4L1747.7 1186.6ZM1767.2 1184.3H1799L1799.3 1186.6L1797 1191.5H1769.2L1766.9 1186.6ZM1808.2 1184.3H1816L1816.3 1186.6L1813.6 1191.5H1810.6L1807.9 1186.6ZM1826.4 1184.3H1857.8L1858.1 1186.6L1855.8 1191.5H1828.4L1826.1 1186.6ZM1868 1184.3H1876L1876.3 1186.6L1873.6 1191.5H1870.4L1867.7 1186.6ZM1885.4 1184.3H1917L1917.3 1186.6L1915 1191.5H1887.4L1885.1 1186.6Z"/>
</g>
<g text-anchor="end">
<text transform="translate(197.8 1211.2) scale(0.985 1)">0</text>
<text transform="translate(197.8 1020.2) scale(0.985 1)">0.02</text>
<text transform="translate(197.8 829.2) scale(0.985 1)">0.04</text>
<text transform="translate(197.8 638.2) scale(0.985 1)">0.06</text>
<text transform="translate(197.8 447.2) scale(0.985 1)">0.08</text>
<text transform="translate(197.8 256.2) scale(0.985 1)">0.1</text>
<text transform="translate(197.8 65.2) scale(0.985 1)">0.12</text>
</g>
<g text-anchor="middle">
<text transform="translate(212.2 1257.3)">0</text>
<text transform="translate(555 1257.3)">500</text>
<text transform="translate(897.8 1257.3)">1000</text>
<text transform="translate(1240.6 1257.3)">1500</text>
<text transform="translate(1583.4 1257.3)">2000</text>
<text transform="translate(1926.2 1257.3)">2500</text>
<text transform="translate(1070.5 1319.3) scale(0.98 1)">Time</text>
<text transform="translate(64.3 616.2) rotate(-90) scale(0.98 1)">Time</text>
</g>
<rect x="1540" y="349" width="357" height="322.7" fill="#fff" stroke="#000" stroke-width="4" shape-rendering="crispEdges"/>
<g fill="none" stroke-width="11.3" shape-rendering="crispEdges">
<path stroke="#0000ff" d="M1570 395.5H1725"/>
<path stroke="#ff0000" d="M1570 472.3H1725" stroke-dasharray="32 29.6"/>
<path stroke="#000000" d="M1570 548H1725" stroke-dasharray="3.9 19.2"/>
<path stroke="#bf00bf" d="M1570 624.5H1725" stroke-dasharray="3.9 19.1 32 19"/>
</g>
<text x="1738.6" y="416.6"><tspan class="t" textLength="25.6" lengthAdjust="spacingAndGlyphs">τ</tspan><tspan x="1763.5" dy="5.6">=</tspan><tspan x="1794.9" dy="-5.6" textLength="71.8" lengthAdjust="spacingAndGlyphs">0.5</tspan></text>
<text x="1738.6" y="492.2"><tspan class="t" textLength="25.6" lengthAdjust="spacingAndGlyphs">τ</tspan><tspan x="1763.5" dy="5.6">=</tspan><tspan x="1794.9" dy="-5.6" textLength="71.8" lengthAdjust="spacingAndGlyphs">1.2</tspan></text>
<text x="1738.6" y="568.8"><tspan class="t" textLength="25.6" lengthAdjust="spacingAndGlyphs">τ</tspan><tspan x="1763.5" dy="5.6">=</tspan><tspan x="1794.9" dy="-5.6" textLength="71.8" lengthAdjust="spacingAndGlyphs">1.3</tspan></text>
<text x="1738.6" y="645"><tspan class="t" textLength="25.6" lengthAdjust="spacingAndGlyphs">τ</tspan><tspan x="1763.5" dy="5.6">=</tspan><tspan x="1794.9" dy="-5.6" textLength="71.8" lengthAdjust="spacingAndGlyphs">1.5</tspan></text>
</svg></body></html>
